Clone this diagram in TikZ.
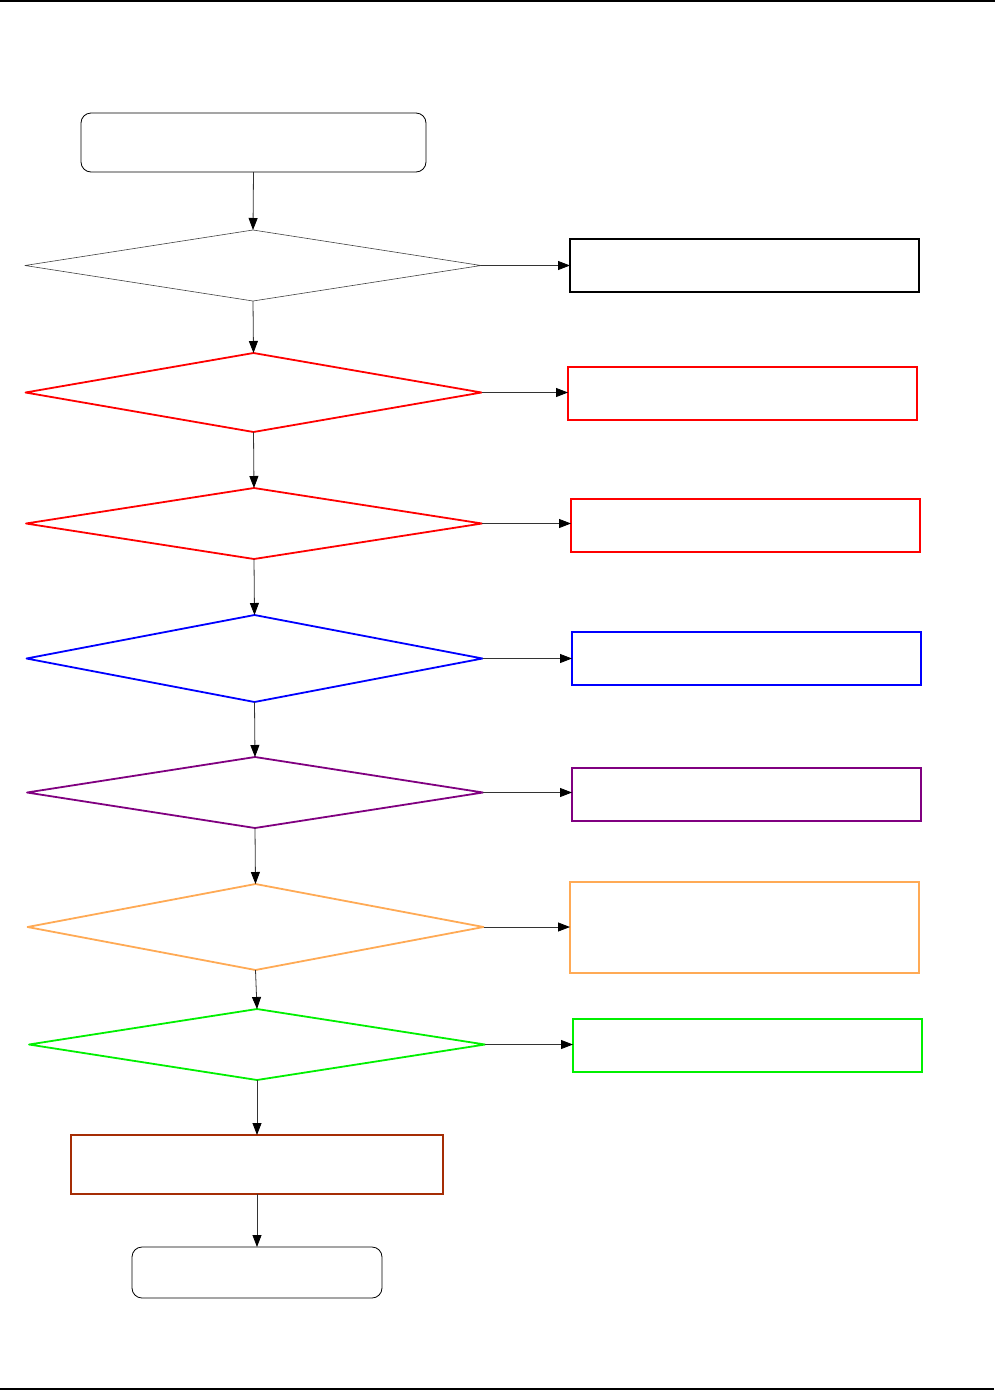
\documentclass[tikz,border=0pt]{standalone}
\usetikzlibrary{shapes.geometric,arrows.meta}
\definecolor{cred}{RGB}{255,0,0}
\definecolor{cblue}{RGB}{0,0,255}
\definecolor{cpurple}{RGB}{128,0,128}
\definecolor{corange}{RGB}{255,170,85}
\definecolor{cgreen}{RGB}{0,240,0}
\definecolor{cbrown}{RGB}{165,45,5}
\tikzset{
  dec/.style={shape=diamond,draw,inner sep=0pt,outer sep=0pt,minimum width=456pt,line width=1.8pt,line join=round},
  box/.style={shape=rectangle,draw,inner sep=0pt,outer sep=0pt,minimum width=349pt,minimum height=53pt,line width=1.8pt},
  term/.style={shape=rectangle,draw,rounded corners=10pt,inner sep=0pt,outer sep=0pt,line width=0.8pt},
  arr/.style={-{Triangle[length=12pt,width=9pt,fill=black,color=black]},line width=0.8pt,draw=black!80},
  rule/.style={line width=1.8pt}
}
\begin{document}
\begin{tikzpicture}[x=1pt,y=-1pt]
\useasboundingbox (0,0) rectangle (995,1390);
\draw[rule] (0,1) -- (995,1);
\draw[rule] (0,1389) -- (994,1389);

\node[term,minimum width=345pt,minimum height=59pt] (start) at (253.5,142.5) {};
\node[dec,minimum height=71pt,line width=0.6pt,draw=black!75] (d1) at (253,265.5) {};
\node[box,line width=2pt] (b1) at (744.5,265.5) {};
\node[dec,minimum height=79pt,draw=cred] (d2) at (253.5,392.5) {};
\node[box,draw=cred] (b2) at (742.5,393.5) {};
\node[dec,minimum height=71pt,draw=cred] (d3) at (254,523.5) {};
\node[box,draw=cred] (b3) at (745.5,525.5) {};
\node[dec,minimum height=87pt,draw=cblue] (d4) at (254.5,658.5) {};
\node[box,draw=cblue] (b4) at (746.5,658.5) {};
\node[dec,minimum height=71pt,draw=cpurple] (d5) at (255,792.5) {};
\node[box,draw=cpurple] (b5) at (746.5,794.5) {};
\node[dec,minimum height=86pt,draw=corange] (d6) at (255.5,927) {};
\node[box,minimum height=91pt,draw=corange] (b6) at (744.5,927.5) {};
\node[dec,minimum height=71pt,draw=cgreen] (d7) at (257,1044.5) {};
\node[box,draw=cgreen] (b7) at (747.5,1045.5) {};
\node[box,minimum width=372pt,minimum height=59pt,draw=cbrown] (p) at (257,1164.5) {};
\node[term,minimum width=250pt,minimum height=51pt] (end) at (257,1272.5) {};

\draw[arr] (start.south) -- (d1.north);
\draw[arr] (d1.south) -- (d2.north);
\draw[arr] (d2.south) -- (d3.north);
\draw[arr] (d3.south) -- (d4.north);
\draw[arr] (d4.south) -- (d5.north);
\draw[arr] (d5.south) -- (d6.north);
\draw[arr] (d6.south) -- (d7.north);
\draw[arr] (d7.south) -- (p.north);
\draw[arr] (p.south) -- (end.north);

\draw[arr] (d1.east) -- (d1.east -| b1.west);
\draw[arr] (d2.east) -- (d2.east -| b2.west);
\draw[arr] (d3.east) -- (d3.east -| b3.west);
\draw[arr] (d4.east) -- (d4.east -| b4.west);
\draw[arr] (d5.east) -- (d5.east -| b5.west);
\draw[arr] (d6.east) -- (d6.east -| b6.west);
\draw[arr] (d7.east) -- (d7.east -| b7.west);
\end{tikzpicture}
\end{document}
